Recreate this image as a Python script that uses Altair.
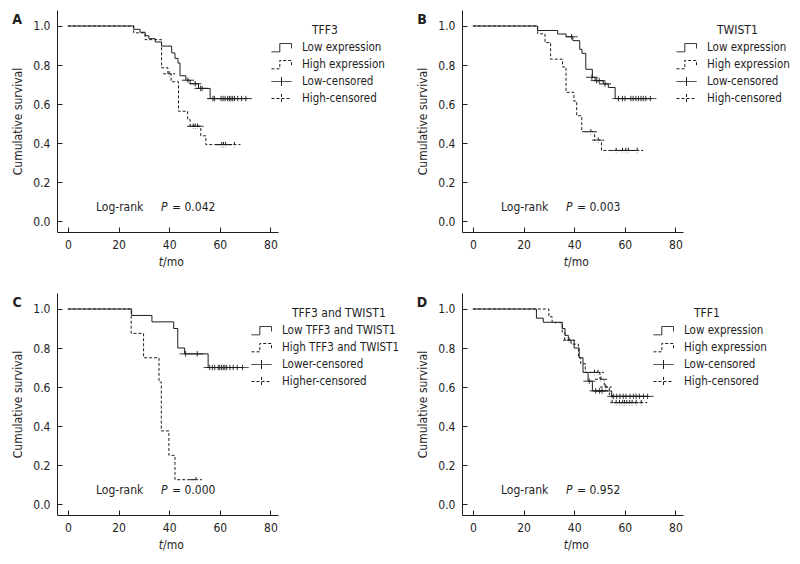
import altair as alt
import pandas as pd

FONT = "'DejaVu Sans Condensed', 'Liberation Sans', sans-serif"
INK = "#1e1e1e"

# ---------------- data ----------------
# Panel A : TFF3
A_low_t = [0, 26, 28.5, 30.5, 32, 34.5, 37, 41, 42.3, 43.5, 44.3, 46.6, 48.3, 51.6, 56.2, 70.3]
A_low_s = [1.0, 0.983, 0.968, 0.95, 0.935, 0.918, 0.897, 0.862, 0.834, 0.81, 0.745, 0.722, 0.704, 0.68, 0.628, 0.628]
A_high_t = [0, 26, 30.5, 37, 39.5, 40.8, 43.7, 47.3, 48.3, 52.5, 54.5, 65.8]
A_high_s = [1.0, 0.965, 0.93, 0.786, 0.755, 0.714, 0.563, 0.52, 0.486, 0.437, 0.392, 0.392]
A_lowc_t = [47.4, 50.3, 52.4, 53.0, 57.3, 57.9, 60.5, 61.3, 62.1, 63.1, 63.8, 64.4, 65.1, 65.8, 67.1, 68.6, 70.3]
A_lowc_s = [0.722, 0.704, 0.68, 0.68] + [0.628] * 13
A_highc_t = [40.0, 49.5, 50.3, 51.2, 60.8, 61.5, 62.3, 65.8]
A_highc_s = [0.755, 0.486, 0.486, 0.486, 0.392, 0.392, 0.392, 0.392]

# Panel B : TWIST1
B_low_t = [0, 25.5, 33.5, 36.8, 39.5, 42.2, 43.1, 44.6, 47.2, 48.3, 51.5, 53.5, 56.2, 70.1]
B_low_s = [1.0, 0.977, 0.959, 0.945, 0.925, 0.88, 0.86, 0.778, 0.737, 0.72, 0.703, 0.685, 0.628, 0.628]
B_high_t = [0, 25.6, 28.5, 30.7, 35.4, 36.8, 39.9, 41.0, 43.0, 48.1, 50.8, 65.0]
B_high_s = [1.0, 0.96, 0.915, 0.83, 0.79, 0.66, 0.615, 0.54, 0.458, 0.415, 0.362, 0.362]
B_lowc_t = [39.0, 47.0, 48.9, 49.9, 52.2, 57.5, 59.1, 60.1, 62.4, 63.3, 64.4, 65.4, 66.4, 67.3, 68.3, 70.1]
B_lowc_s = [0.945, 0.737, 0.72, 0.72, 0.703] + [0.628] * 11
B_highc_t = [46.6, 49.5, 56.6, 59.1, 60.4, 61.4, 64.9]
B_highc_s = [0.458, 0.415, 0.362, 0.362, 0.362, 0.362, 0.362]

# Panel C : TFF3 and TWIST1
C_low_t = [0, 25.2, 33.2, 41.8, 43.4, 46.1, 55.4, 69.0]
C_low_s = [1.0, 0.967, 0.934, 0.90, 0.80, 0.77, 0.70, 0.70]
C_high_t = [0, 25.0, 29.9, 36.0, 36.9, 39.9, 42.3, 50.6]
C_high_s = [1.0, 0.875, 0.75, 0.625, 0.375, 0.25, 0.125, 0.125]
C_lowc_t = [46.5, 51.1, 56.0, 57.1, 58.0, 59.4, 60.0, 60.7, 61.4, 62.0, 62.7, 64.0, 65.3, 66.9, 69.0]
C_lowc_s = [0.77, 0.77] + [0.70] * 13
C_highc_t = [50.6]
C_highc_s = [0.125]

# Panel D : TFF1
D_low_t = [0, 25.1, 27.8, 35.3, 36.4, 37.7, 40.0, 42.0, 43.5, 45.5, 47.2, 54.8, 69.0]
D_low_s = [1.0, 0.953, 0.932, 0.90, 0.865, 0.84, 0.80, 0.75, 0.675, 0.63, 0.58, 0.552, 0.552]
D_high_t = [0, 30.0, 31.3, 35.3, 36.3, 38.8, 41.7, 42.6, 44.4, 50.2, 51.9, 53.9, 55.0, 67.0]
D_high_s = [1.0, 0.96, 0.93, 0.88, 0.84, 0.82, 0.75, 0.72, 0.675, 0.64, 0.60, 0.56, 0.52, 0.52]
D_lowc_t = [46.0, 48.5, 50.0, 51.0, 55.5, 56.8, 58.1, 59.4, 60.5, 62.1, 63.4, 64.5, 65.8, 67.4, 69.0]
D_lowc_s = [0.63, 0.58, 0.58, 0.58] + [0.552] * 11
D_highc_t = [38.0, 48.0, 49.4, 50.6, 52.5, 56.6, 57.9, 59.2, 59.9, 60.8, 61.9, 62.9, 64.5, 66.5]
D_highc_s = [0.84, 0.675, 0.675, 0.64, 0.60] + [0.52] * 9

LABELS_EXPR = ["Low expression", "High expression", "Low-censored", "High-censored"]
LABELS_COMB = ["Low TFF3 and TWIST1", "High TFF3 and TWIST1", "Lower-censored", "Higher-censored"]

X_TICKS = [0, 20, 40, 60, 80]
Y_TICKS = [0.0, 0.2, 0.4, 0.6, 0.8, 1.0]

# ---------------- styling ----------------
W, H = 221, 222
STEP = "M-1,0.43H-0.17V-0.4H1V0.1"
PLUS = "M-1,0H1M0,-0.45V0.45"
one = pd.DataFrame({"o": [0]})


def txt(x, y, s, align="left", size=12, **kw):
    return alt.Chart(one).mark_text(
        text=s, align=align, baseline="middle", font=FONT, fontSize=size, color=INK, **kw
    ).encode(x=alt.value(x), y=alt.value(y))


def panel(letter, title, labels, lt, ls, ht, hs, lct, lcs, hct, hcs, pval, lx):
    lines = pd.DataFrame({"t": lt + ht, "s": ls + hs,
                          "key": [labels[0]] * len(lt) + [labels[1]] * len(ht)})
    cens = pd.DataFrame({"t": lct + hct, "s": lcs + hcs,
                         "key": [labels[2]] * len(lct) + [labels[3]] * len(hct)})
    xs = alt.Scale(domain=[-4.3, 83], nice=False, zero=False)
    ys = alt.Scale(domain=[-0.056, 1.082], nice=False, zero=False)
    xax = alt.Axis(values=X_TICKS, format="d", title=None, grid=False,
                   tickSize={"expr": "-5"}, labelPadding=12,
                   labelFont=FONT, labelFontSize=12, labelColor=INK,
                   domainColor=INK, tickColor=INK)
    yax = alt.Axis(values=Y_TICKS, format=".1f", title="Cumulative survival", grid=False,
                   tickSize={"expr": "-5"}, labelPadding=12,
                   labelFont=FONT, labelFontSize=12, labelColor=INK,
                   titleFont=FONT, titleFontSize=12, titleFontWeight="normal",
                   titleColor=INK, titleX=-40, titleY=H / 2, titleBaseline="middle",
                   titleAngle=270, titleAlign="center",
                   domainColor=INK, tickColor=INK)
    base = alt.Chart(lines)
    low = base.mark_line(interpolate="step-after", color=INK, strokeWidth=1).encode(
        x=alt.X("t:Q", scale=xs, axis=xax), y=alt.Y("s:Q", scale=ys, axis=yax)
    ).transform_filter(alt.datum.key == labels[0])
    high = base.mark_line(interpolate="step-after", color=INK, strokeWidth=1,
                          strokeDash=[3, 2]).encode(
        x=alt.X("t:Q", scale=xs, axis=xax), y=alt.Y("s:Q", scale=ys, axis=yax)
    ).transform_filter(alt.datum.key == labels[1])
    leg = alt.Legend(title=None, orient="none", legendX=lx, legendY=27,
                     symbolSize=400, symbolStrokeWidth=1, symbolStrokeColor=INK,
                     symbolFillColor="transparent", labelFont=FONT, labelFontSize=11.5,
                     labelColor=INK, labelOffset=10, rowPadding=-3, padding=0)
    pts = alt.Chart(cens).mark_point(filled=False, size=144, color=INK, strokeWidth=1,
                                     opacity=1).encode(
        x=alt.X("t:Q", scale=xs), y=alt.Y("s:Q", scale=ys),
        shape=alt.Shape("key:N", scale=alt.Scale(domain=labels, range=[STEP, STEP, PLUS, PLUS]),
                        legend=leg),
        strokeDash=alt.StrokeDash("key:N", scale=alt.Scale(domain=labels,
                                  range=[[1, 0], [3, 2], [1, 0], [3, 2]]), legend=leg),
    )
    texts = [
        txt(-40, 10, letter, align="center", size=14, fontWeight="bold"),
        txt(lx + 41, 20, title),
        txt(39, 197, "Log-rank"),
        txt(104, 197, "P", fontStyle="italic"),
        txt(115, 197, "= " + pval),
        txt(106, 252, "t", align="right", fontStyle="italic"),
        txt(106, 252, "/mo"),
    ]
    return alt.layer(low, high, pts, *texts).properties(width=W, height=H)


pA = panel("A", "TFF3", LABELS_EXPR, A_low_t, A_low_s, A_high_t, A_high_s,
           A_lowc_t, A_lowc_s, A_highc_t, A_highc_s, "0.042", 214)
pB = panel("B", "TWIST1", LABELS_EXPR, B_low_t, B_low_s, B_high_t, B_high_s,
           B_lowc_t, B_lowc_s, B_highc_t, B_highc_s, "0.003", 214)
pC = panel("C", "TFF3 and TWIST1", LABELS_COMB, C_low_t, C_low_s, C_high_t, C_high_s,
           C_lowc_t, C_lowc_s, C_highc_t, C_highc_s, "0.000", 194)
pD = panel("D", "TFF1", LABELS_EXPR, D_low_t, D_low_s, D_high_t, D_high_s,
           D_lowc_t, D_lowc_s, D_highc_t, D_highc_s, "0.952", 191)

row1 = alt.hconcat(pA, pB, spacing=31).resolve_scale(shape="independent", strokeDash="independent")
row2 = alt.hconcat(pC, pD, spacing=17).resolve_scale(shape="independent", strokeDash="independent")
chart = alt.vconcat(row1, row2, spacing=25).resolve_scale(
    shape="independent", strokeDash="independent"
).properties(
    padding={"left": 3, "top": 2, "right": 0, "bottom": 0}, background="white"
).configure_view(stroke=None)

chart.save("out.html", embed_options={"renderer": "svg", "actions": False})
